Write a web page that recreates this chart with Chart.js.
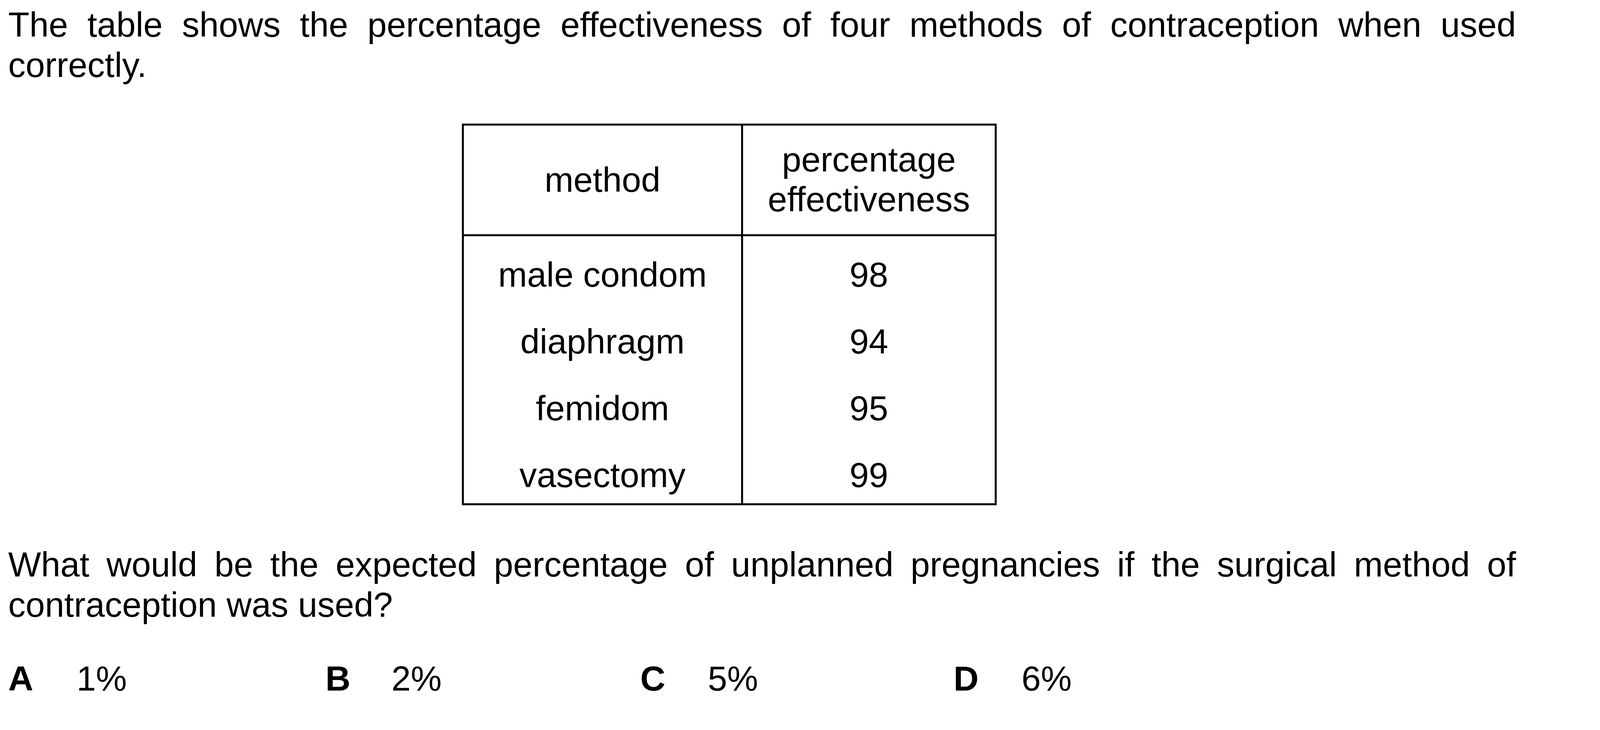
<!DOCTYPE html>
<html>
<head>
<meta charset="utf-8">
<script src="https://cdn.jsdelivr.net/npm/chart.js@4"></script>
<style>
  body { margin: 0; background: #fff; width: 4201px; height: 1869px; position: relative; overflow: hidden;
         font-family: "Liberation Sans", Arial, sans-serif; font-size: 89px; color: #000; }
  .para { position: absolute; left: 21px; width: 3860px; line-height: 103px; text-align: justify; }
  .opt { position: absolute; top: 1686px; line-height: 103px; }
  .opt b { font-weight: bold; }
  #wrap { position: absolute; left: 1181px; top: 315px; width: 1372px; height: 980px; }
</style>
</head>
<body>
<div class="para" style="top:12px">The table shows the percentage effectiveness of four methods of contraception when used correctly.</div>
<div id="wrap"><canvas id="myChart"></canvas></div>
<div class="para" style="top:1394px">What would be the expected percentage of unplanned pregnancies if the surgical method of contraception was used?</div>
<div class="opt" style="left:21px"><b>A</b></div><div class="opt" style="left:196px">1%</div>
<div class="opt" style="left:833px"><b>B</b></div><div class="opt" style="left:1002px">2%</div>
<div class="opt" style="left:1639px"><b>C</b></div><div class="opt" style="left:1812px">5%</div>
<div class="opt" style="left:2441px"><b>D</b></div><div class="opt" style="left:2615px">6%</div>
<script>
//data
const headers = ["method", ["percentage", "effectiveness"]];
const methods = ["male condom", "diaphragm", "femidom", "vasectomy"];
const effectiveness = [98, 94, 95, 99];

//table drawing plugin
const tablePlugin = {
  id: "tablePlugin",
  afterDraw(chart) {
    const ctx = chart.ctx;
    const a = chart.chartArea;
    const w = a.right - a.left, h = a.bottom - a.top;
    const divX = a.left + w * 0.524;
    const headY = a.top + h * 0.2915;
    const rowH = (a.bottom - headY) / methods.length;
    ctx.save();
    ctx.strokeStyle = "#000";
    ctx.lineWidth = 5;
    ctx.strokeRect(a.left, a.top, w, h);
    ctx.beginPath();
    ctx.moveTo(divX, a.top); ctx.lineTo(divX, a.bottom);
    ctx.moveTo(a.left, headY); ctx.lineTo(a.right, headY);
    ctx.stroke();

    ctx.fillStyle = "#000";
    ctx.font = '89px "Liberation Sans", Arial, sans-serif';
    ctx.textAlign = "center";
    ctx.textBaseline = "middle";
    const c1 = (a.left + divX) / 2, c2 = (divX + a.right) / 2;
    ctx.fillText(headers[0], c1, a.top + 147);
    ctx.fillText(headers[1][0], c2, a.top + 95);
    ctx.fillText(headers[1][1], c2, a.top + 197);
    for (let i = 0; i < methods.length; i++) {
      const y = headY + rowH * 0.62 + i * (rowH - 1);
      ctx.fillText(methods[i], c1, y);
      ctx.fillText(String(effectiveness[i]), c2, y);
    }
    ctx.restore();
  },
};

const config = {
  type: "bar",
  data: { labels: methods, datasets: [{ data: [], label: "percentage effectiveness" }] },
  options: {
    responsive: true,
    maintainAspectRatio: false,
    animation: false,
    layout: { padding: 4 },
    scales: { x: { display: false }, y: { display: false } },
    plugins: { legend: { display: false }, tooltip: { enabled: false } },
  },
  plugins: [tablePlugin],
};

const myChart = new Chart(document.getElementById("myChart"), config);
</script>
</body>
</html>
